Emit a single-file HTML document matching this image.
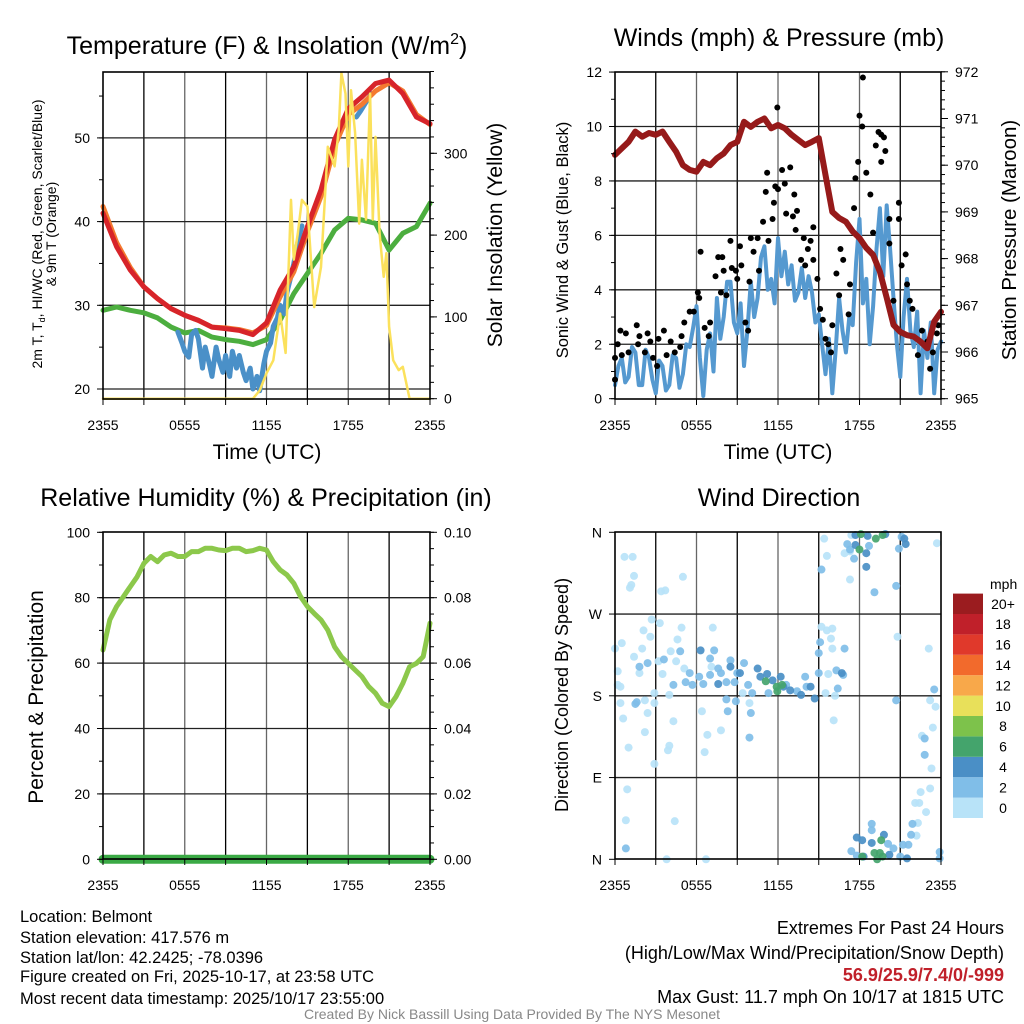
<!DOCTYPE html>
<html><head><meta charset="utf-8"><style>
html,body{margin:0;padding:0;background:#fff;}
svg{display:block;font-family:"Liberation Sans",Arial,sans-serif;}
</style></head><body>
<svg id="fig" width="1024" height="1024" viewBox="0 0 1024 1024" xmlns="http://www.w3.org/2000/svg">
<rect x="0" y="0" width="1024" height="1024" fill="#fff"/>
<g id="grids"></g>
<g id="marks"></g>
<g id="frames"></g>
<g id="texts" fill="#000">
<text x="267" y="54" font-size="25" text-anchor="middle">Temperature (F) &amp; Insolation (W/m<tspan font-size="16" dy="-10">2</tspan><tspan dy="10">)</tspan></text>
<text x="779" y="46" font-size="25" text-anchor="middle">Winds (mph) &amp; Pressure (mb)</text>
<text x="266" y="506" font-size="25" text-anchor="middle">Relative Humidity (%) &amp; Precipitation (in)</text>
<text x="779" y="506" font-size="25" text-anchor="middle">Wind Direction</text>
<text x="267" y="459" font-size="21" text-anchor="middle">Time (UTC)</text>
<text x="778" y="459" font-size="21" text-anchor="middle">Time (UTC)</text>
<text transform="translate(42,234) rotate(-90)" font-size="14" text-anchor="middle">2m T, T<tspan font-size="9" dy="3">d</tspan><tspan dy="-3">, HI/WC (Red, Green, Scarlet/Blue)</tspan></text>
<text transform="translate(56,234) rotate(-90)" font-size="14" text-anchor="middle">&amp; 9m T (Orange)</text>
<text transform="translate(502,235) rotate(-90)" font-size="21" text-anchor="middle">Solar Insolation (Yellow)</text>
<text transform="translate(568,240) rotate(-90)" font-size="16.5" text-anchor="middle">Sonic Wind &amp; Gust (Blue, Black)</text>
<text transform="translate(1016,240) rotate(-90)" font-size="20.5" text-anchor="middle">Station Pressure (Maroon)</text>
<text transform="translate(43,697) rotate(-90)" font-size="21" text-anchor="middle">Percent &amp; Precipitation</text>
<text transform="translate(568,695) rotate(-90)" font-size="18" text-anchor="middle">Direction (Colored By Speed)</text>
<text x="990" y="589" font-size="14">mph</text>
<g font-size="16.5">
<text x="20" y="922">Location: Belmont</text>
<text x="20" y="943">Station elevation: 417.576 m</text>
<text x="20" y="963">Station lat/lon: 42.2425; -78.0396</text>
<text x="20" y="982">Figure created on Fri, 2025-10-17, at 23:58 UTC</text>
<text x="20" y="1004">Most recent data timestamp: 2025/10/17 23:55:00</text>
</g>
<g font-size="18" text-anchor="end">
<text x="1004" y="934">Extremes For Past 24 Hours</text>
<text x="1004" y="959">(High/Low/Max Wind/Precipitation/Snow Depth)</text>
<text x="1004" y="981" fill="#c0202a" font-weight="bold">56.9/25.9/7.4/0/-999</text>
<text x="1004" y="1003">Max Gust: 11.7 mph On 10/17 at 1815 UTC</text>
</g>
<text x="512" y="1019" font-size="14" fill="#888" text-anchor="middle">Created By Nick Bassill Using Data Provided By The NYS Mesonet</text>
</g>
</svg>
<script>
// ---------- DATA ----------
const hours = [0,1,2,3,4,5,6,7,8,9,10,11,12,13,14,15,16,17,18,19,20,21,22,23,24];
const tempRed = [41.0,37.0,34.2,32.2,30.8,29.6,28.8,28.2,27.4,27.2,27.0,26.5,27.9,31.8,34.6,39.4,43.8,49.8,53.5,54.9,56.5,56.9,55.3,52.5,51.7];
const tempOrange = [41.8,37.5,34.5,32.2,30.8,29.6,28.8,28.2,27.4,27.3,27.1,26.7,27.6,31.0,34.0,38.8,43.0,49.0,52.8,54.0,55.6,56.6,55.6,52.8,51.6];
const dewGreen = [29.4,29.8,29.4,29.1,28.5,27.4,26.7,27.0,26.2,25.9,25.7,25.3,25.9,28.2,31.4,33.8,36.2,39.0,40.4,40.2,39.8,36.6,38.6,39.4,42.2];
const wcTimes = [5.5,5.8,6,6.3,6.5,6.8,7,7.3,7.5,7.8,8,8.3,8.5,8.8,9,9.3,9.5,9.8,10,10.3,10.5,10.8,11,11.3,11.5,11.8,12,12.3,12.5,12.8,13,13.3,13.5,13.8,14,14.3,14.6,null,18.6,18.9,19.2,19.5,19.7];
const wcBlue = [26.8,25.5,24.5,23.8,26.5,27.0,26.0,22.5,25.0,23.0,21.5,25.0,23.5,22.0,24.0,21.5,24.5,22.5,24.0,22.0,21.0,22.5,20.0,21.5,19.8,23.0,24.5,25.5,27.5,28.5,30.0,29.0,31.5,33.5,35.0,37.5,39.5,null,52.5,53.2,54.0,54.8,55.3];
const solarTimes = [0,11,11.5,12,12.5,13,13.4,13.8,14,14.3,14.6,15,15.5,16,16.5,17,17.3,17.5,17.8,18,18.2,18.5,18.8,19,19.3,19.6,19.8,20,20.3,20.6,20.8,21,21.3,21.7,22,22.5,23,24];
const solarVals = [0,0,10,31,47,104,56,243,170,202,243,235,112,161,308,284,328,398,373,284,377,325,214,292,219,373,219,320,202,149,178,88,47,35,39,0,0,0];
const windTimes = [0,0.25,0.5,0.75,1,1.25,1.5,1.75,2,2.25,2.5,2.75,3,3.25,3.5,3.75,4,4.25,4.5,4.75,5,5.25,5.5,5.75,6,6.25,6.5,6.75,7,7.25,7.5,7.75,8,8.25,8.5,8.75,9,9.25,9.5,9.75,10,10.25,10.5,10.75,11,11.25,11.5,11.75,12,12.25,12.5,12.75,13,13.25,13.5,13.75,14,14.25,14.5,14.75,15,15.25,15.5,15.75,16,16.25,16.5,16.75,17,17.25,17.5,17.75,18,18.25,18.5,18.75,19,19.25,19.5,19.75,20,20.25,20.5,20.75,21,21.25,21.5,21.75,22,22.25,22.5,22.75,23,23.25,23.5,23.75,24];
const windSpeed = [0.5,1.2,1.5,0.6,0.8,1.9,1.7,0.5,0.5,1.8,1.5,0.7,0.2,1.4,1.2,0.3,0.5,1.6,1.5,0.4,0.9,2.0,1.9,2.6,3.4,1.5,0.1,1.8,2.4,1.0,3.7,2.2,3.0,4.3,4.3,2.8,2.4,3.5,1.2,2.5,4.3,3.0,3.7,5.2,5.6,4.0,4.4,3.5,5.9,4.5,5.4,4.2,4.9,3.6,3.9,4.8,3.7,4.5,3.9,2.8,3.1,2.0,0.9,2.2,0.2,1.8,3.7,2.5,1.7,3.0,2.7,5.0,6.6,3.5,4.4,2.0,3.4,5.5,7.0,4.5,7.1,5.5,3.7,2.0,0.8,3.0,4.4,2.5,1.9,3.2,0.2,2.5,1.5,2.8,0.2,1.8,2.1];
const gustTimes = [0,0,0.2,0.4,0.8,0.5,1.0,1.6,1.7,1.8,2.2,2.4,2.6,2.8,3.2,3.1,3.6,3.8,4.1,4.4,4.8,4.9,5.1,5.5,5.8,6.1,6.2,6.3,6.6,7.0,6.9,7.4,7.6,7.9,7.8,8.0,8.2,8.5,8.6,8.9,9.0,9.2,9.3,9.6,9.8,9.9,10.0,10.2,10.5,10.6,10.9,11.1,11.2,11.3,11.6,11.7,11.8,11.95,12.0,12.3,12.5,12.6,12.9,13.1,13.2,13.4,13.3,13.7,13.9,14.0,14.2,14.4,14.6,14.6,14.9,15.1,15.3,15.5,15.7,15.9,16.0,16.3,16.5,16.6,16.8,17.2,17.3,17.6,17.7,17.9,18.0,18.2,18.25,18.5,18.8,19.0,19.2,19.4,19.6,19.8,19.9,19.6,20.2,20.2,20.5,20.9,20.9,21.1,21.4,21.5,21.7,21.9,22.3,22.6,23.0,23.2,23.4,23.7,23.8];
const gustVals = [0.7,1.5,2.0,2.5,2.4,1.6,1.7,2.7,2.0,2.3,1.7,2.4,2.1,1.5,2.2,1.2,2.5,1.6,2.1,1.7,1.9,2.3,2.8,3.2,3.2,3.9,3.7,5.4,2.6,2.8,2.3,4.5,5.2,5.2,3.9,4.7,3.8,5.8,4.8,4.7,4.4,5.6,4.9,2.8,2.5,4.3,5.9,5.4,5.9,4.7,6.5,7.6,8.3,5.8,6.6,7.2,7.8,10.7,7.7,8.4,7.9,6.8,8.5,6.7,7.5,6.9,6.2,5.1,5.9,4.9,5.5,5.8,6.3,5.1,4.4,3.3,2.9,2.2,2.0,1.7,2.7,4.6,3.8,5.5,5.1,3.1,4.2,7.0,8.1,8.7,10.4,10.0,11.8,8.3,7.5,6.1,9.3,9.8,9.7,9.6,9.1,8.7,6.6,5.7,3.6,7.2,6.6,4.9,5.3,4.2,3.6,3.3,1.6,2.5,2.1,1.1,1.7,2.4,2.7];
const presTimes = [0,1,1.5,2,2.5,3,3.5,4,4.5,5,5.5,6,6.5,7,7.5,8,8.5,9,9.5,10,10.5,11,11.5,12,12.5,13,13.5,14,14.5,15,15.5,16,16.5,17,17.5,18,18.5,19,19.5,20,20.5,21,21.5,22,22.5,23,23.5,24];
const presVals = [970.22,970.50,970.72,970.61,970.69,970.65,970.72,970.50,970.29,970.0,969.9,969.86,970.07,970.0,970.15,970.25,970.43,970.50,970.93,970.82,970.93,971.0,970.79,970.86,970.79,970.65,970.54,970.43,970.50,970.58,969.79,969.0,968.87,968.79,968.58,968.44,968.23,968.08,967.72,967.16,966.58,966.43,966.36,966.33,966.22,966.08,966.65,966.86];
const rhTimes = [0,0.5,1,1.5,2,2.5,3,3.5,4,4.5,5,5.5,6,6.5,7,7.5,8,8.5,9,9.5,10,10.5,11,11.5,12,12.5,13,13.5,14,14.5,15,15.5,16,16.5,17,17.5,18,18.5,19,19.5,20,20.5,21,21.5,22,22.5,23,23.5,24];
const rhVals = [64.0,73.2,77.3,80.3,83.4,86.4,90.5,92.6,91.0,93.1,93.6,92.6,92.6,94.1,94.1,95.1,95.1,94.6,94.4,95.1,95.1,94.1,94.4,95.1,94.6,91.0,88.5,87.0,84.4,80.3,77.3,75.2,73.2,70.1,65.0,62.0,59.9,57.9,55.9,52.8,50.8,47.7,46.7,49.7,53.8,58.9,59.9,62.0,72.2];
const precipTimes = [0,24];
const precipVals = [0,0];
const dirTimes = [0.7,1.3,1.4,1.2,1.1,3.4,3.7,5.0,2.7,3.3,2.1,2.6,4.9,7.2,4.6,0.5,0,2.0,1.4,4.1,3.2,4.5,1.8,3.5,0.2,5.1,0.2,0.4,4.0,2.9,0.4,2.2,2.9,2.4,0.6,4.3,6.4,2.2,7.8,6.8,4.0,3.9,1.0,6.6,2.9,0.9,0.8,4.4,3.8,6.7,7.1,9.9,9.4,15.4,15.6,17.3,15.2,15.6,16.0,15.9,16.0,15.7,15.5,16.2,16.1,20.8,23.1,23.2,23.6,23.4,22.6,23.3,23.2,22.5,22.1,22.4,22.9,22.3,22.2,23.7,16.9,17.4,17.3,
1.8,2.4,3.6,4.8,4.3,1.5,1.6,5.2,5.5,5.7,6.2,6.5,7.0,7.3,7.0,7.6,7.8,8.2,8.5,8.8,9.0,9.5,9.8,10.1,8.2,8.9,10.0,8.3,9.9,11.3,12.6,13.4,14.0,14.1,15.0,15.1,15.0,16.3,16.4,16.9,16.8,15.2,17.1,17.3,17.6,18.7,19.1,20.7,20.9,21.1,22.8,22.8,23.5,20.7,21.9,21.8,21.6,21.2,17.4,17.8,18.9,18.9,20.1,20.5,21.0,23.9,23.9,0.8,
6.3,7.6,8.5,9.2,10.5,10.7,11.2,11.6,12.2,12.4,12.9,13.7,14.4,14.7,16.7,17.7,17.7,18.5,18.5,18.6,21.3,21.4,19.9,17.8,18.2,18.9,19.8,18.3,20.2,21.5,
11.1,11.9,12.3,11.95,18.1,18.0,19.2,19.7,19.6,19.1,19.5,19.7,19.3,18.2];
const dirDegs = [333,333,312,302,299,295,296,311,264,260,252,245,255,255,242,238,232,232,223,229,218,218,205,204,207,210,192,190,181,183,172,175,172,161,155,152,163,140,142,137,125,120,123,118,105,77,43,42,0,0,212,172,183,353,334,308,256,252,254,243,232,204,183,180,153,245,232,175,168,145,136,100,78,74,62,62,52,40,26,348,337,357,339,
212,216,220,229,192,171,173,195,205,192,201,193,203,230,221,210,205,195,219,195,205,216,192,183,176,174,161,163,134,183,192,185,201,190,205,239,227,208,188,232,203,319,347,341,331,345,294,301,342,355,133,115,187,175,39,27,16,16,9,4,39,32,17,12,3,8,1,12,
230,193,212,205,210,201,204,197,201,190,186,181,190,177,205,357,346,337,322,356,353,347,358,24,21,18,27,3,5,1,
196,190,192,185,358,341,353,357,21,7,7,3,0,3];
const dirSpeeds = [1,1,1,1,1,1,1,1,1,1,1,1,1,1,1,1,1,1,1,1,1,1,1,1,1,1,1,1,1,1,1,1,1,1,1,1,1,1,1,1,1,1,1,1,1,1,1,1,1,1,1,1,1,1,1,1,1,1,1,1,1,1,1,1,1,1,1,1,1,1,1,1,1,1,1,1,1,1,1,1,1,1,1,
3,3,3,3,3,3,3,3,3,3,3,3,3,3,3,3,3,3,3,3,3,3,3,3,3,3,3,3,3,3,3,3,3,3,3,3,3,3,3,3,3,3,3,3,3,3,3,3,3,3,3,3,3,3,3,3,3,3,3,3,3,3,3,3,3,3,3,3,
5,5,5,5,5,5,5,5,5,5,5,5,5,5,5,5,5,5,5,5,5,5,5,5,5,5,5,5,5,5,
7,7,7,7,7,7,7,7,7,7,7,7,7,7];
const tempTicks = [20,30,40,50];
const solarTicks = [0,100,200,300];
const windTicks = [0,2,4,6,8,10,12];
const presTicks = [965,966,967,968,969,970,971,972];
const rhTicks = [0,20,40,60,80,100];
const precTicks = [0,0.02,0.04,0.06,0.08,0.10];
const dirTickVals = [0,90,180,270,360];
const dirTickLabels = ["N","E","S","W","N"];
const timeTickVals = [0,6,12,18,24];
const timeTickLabels = ["2355","0555","1155","1755","2355"];
const cbLabels = ["0","2","4","6","8","10","12","14","16","18","20+"];
const cbColors = ["#b8e3f8","#80bee8","#4a8fc6","#44a46c","#7dc24b","#e8e05a","#f8a84a","#f26a2c","#e0392b","#c0202a","#9b1c1f"];

// ---------- SCALES ----------
const P1={x0:103,x1:430,y0:72,y1:399};
const P2={x0:615,x1:941,y0:72,y1:399};
const P3={x0:103,x1:430,y0:532,y1:859};
const P4={x0:615,x1:941,y0:532,y1:859};
const xs=(P)=>t=>P.x0+t*(P.x1-P.x0)/24;
const X1=xs(P1),X2=xs(P2),X3=xs(P3),X4=xs(P4);
const Yt=v=>389-(v-20)*8.37;
const Ys=v=>398.7-v*0.818;
const Yw=v=>398.7-v*27.22;
const Yp=v=>398.7-(v-965)*46.7;
const Yr=v=>859.3-v*3.27;
const Ypr=v=>859.3-v*3270;
const Yd=v=>859.3-v*(327/360);

const NS="http://www.w3.org/2000/svg";
function mk(tag,attrs,parent){const e=document.createElementNS(NS,tag);for(const k in attrs)e.setAttribute(k,attrs[k]);parent.appendChild(e);return e;}
const G=document.getElementById('grids'),M=document.getElementById('marks'),F=document.getElementById('frames'),T=document.getElementById('texts');

function panelFrame(P,name,yTicksL,YL,fmtL,yTicksR,YR,fmtR,minorL,minorR){
  for(let k=1;k<8;k++){const x=P.x0+k*(P.x1-P.x0)/8;
    const l=mk('line',{x1:x,x2:x,y1:P.y0,y2:P.y1,stroke:(k%2?'#000':'#666'),'stroke-width':1.3},G);
    
    }
  yTicksL.forEach((v,i)=>{const y=YL(v);
    if(y>P.y0+1&&y<P.y1-1){const l=mk('line',{x1:P.x0,x2:P.x1,y1:y,y2:y,stroke:'#222','stroke-width':1.3},G);
      
      }
    mk('line',{x1:P.x0-6,x2:P.x0,y1:y,y2:y,stroke:'#000','stroke-width':1},F);
    const t=mk('text',{x:P.x0-13,y:y+5,'font-size':14,'text-anchor':'end'},T);t.textContent=fmtL(v,i);
    
    });
  minorL.forEach(v=>{const y=YL(v);mk('line',{x1:P.x0-4,x2:P.x0,y1:y,y2:y,stroke:'#000','stroke-width':1},F);});
  if(yTicksR){yTicksR.forEach((v,i)=>{const y=YR(v);
    mk('line',{x1:P.x1,x2:P.x1+7,y1:y,y2:y,stroke:'#000','stroke-width':1},F);
    const t=mk('text',{x:P.x1+14,y:y+5,'font-size':14},T);t.textContent=fmtR(v);
    
    });
    minorR.forEach(v=>{const y=YR(v);mk('line',{x1:P.x1,x2:P.x1+4,y1:y,y2:y,stroke:'#000','stroke-width':1},F);});}
  timeTickVals.forEach((v,i)=>{const x=P.x0+v*(P.x1-P.x0)/24;
    const t=mk('text',{x:x,y:P.y1+31,'font-size':14,'text-anchor':'middle'},T);t.textContent=timeTickLabels[i];
    
    });
  for(let k=0;k<=8;k++){const x=P.x0+k*(P.x1-P.x0)/8;mk('line',{x1:x,x2:x,y1:P.y1,y2:P.y1+6,stroke:'#000'},F);}
  const r=mk('rect',{x:P.x0,y:P.y0,width:P.x1-P.x0,height:P.y1-P.y0,fill:'none',stroke:'#000','stroke-width':1.6},F);
  
  
}
function rng(a,b,s){const o=[];for(let v=a;v<=b+1e-9;v+=s)o.push(+v.toFixed(4));return o;}
panelFrame(P1,'temp',tempTicks,Yt,v=>v,solarTicks,Ys,v=>v,rng(20,55,5),rng(0,400,20));
panelFrame(P2,'wind',windTicks,Yw,v=>v,presTicks,Yp,v=>v,rng(0,12,1),rng(965,972,0.2));
panelFrame(P3,'rh',rhTicks,Yr,v=>v,precTicks,Ypr,v=>v.toFixed(2),rng(0,100,10),rng(0,0.1,0.005));
panelFrame(P4,'dir',dirTickVals,Yd,(v,i)=>dirTickLabels[i],null,null,null,[],[]);

function line(xsArr,ysArr,X,Y,color,w,name){
  let d='',pen=false;
  for(let i=0;i<xsArr.length;i++){
    if(xsArr[i]===null||ysArr[i]===null){pen=false;continue;}
    d+=(pen?'L':'M')+X(xsArr[i]).toFixed(1)+' '+Y(ysArr[i]).toFixed(1);pen=true;}
  const p=mk('path',{d:d,fill:'none',stroke:color,'stroke-width':w,'stroke-linejoin':'round','stroke-linecap':'round'},M);
  
  
}
// Temperature panel
line(hours,dewGreen,X1,Yt,'#4cae3f',5,'dewpoint-line');
line(wcTimes,wcBlue,X1,Yt,'#4a90c8',5,'windchill-line');
line(hours,tempOrange,X1,Yt,'#f47a30',5,'temp-9m-line');
line(hours,tempRed,X1,Yt,'#d7242a',5,'temp-2m-line');
line(solarTimes,solarVals,X1,Ys,'#fbe15c',2.5,'solar-line');
// Wind panel
line(windTimes,windSpeed,X2,Yw,'#5599d0',4,'wind-speed-line');
gustTimes.forEach((t,i)=>{
  const c=mk('circle',{cx:X2(t),cy:Yw(gustVals[i]),r:3,fill:'#000'},M);
  
  
});
line(presTimes,presVals,X2,Yp,'#961a1a',6,'pressure-line');
// RH panel
line(rhTimes,rhVals,X3,Yr,'#8cc84b',5,'rh-line');
line(precipTimes,precipVals,X3,Ypr,'#3aaa45',9,'precip-line');
// Direction panel
function spdColor(s){let i=Math.floor(s/2);if(i>10)i=10;return cbColors[i];}
dirTimes.forEach((t,i)=>{
  const c=mk('circle',{cx:X4(t),cy:Yd(dirDegs[i]),r:4,fill:spdColor(dirSpeeds[i]),'fill-opacity':0.92},M);
  
  
});
// Colorbar
const cbY0=818,cbH=20.4;
cbLabels.forEach((lab,i)=>{
  const y=cbY0-(i+1)*cbH;
  const r=mk('rect',{x:953,y:y,width:30,height:cbH,fill:cbColors[i]},M);
  
  
  const t=mk('text',{x:1003,y:y+cbH/2+5,'font-size':14,'text-anchor':'middle'},T);t.textContent=lab;
  
  
});
</script>
</body></html>
